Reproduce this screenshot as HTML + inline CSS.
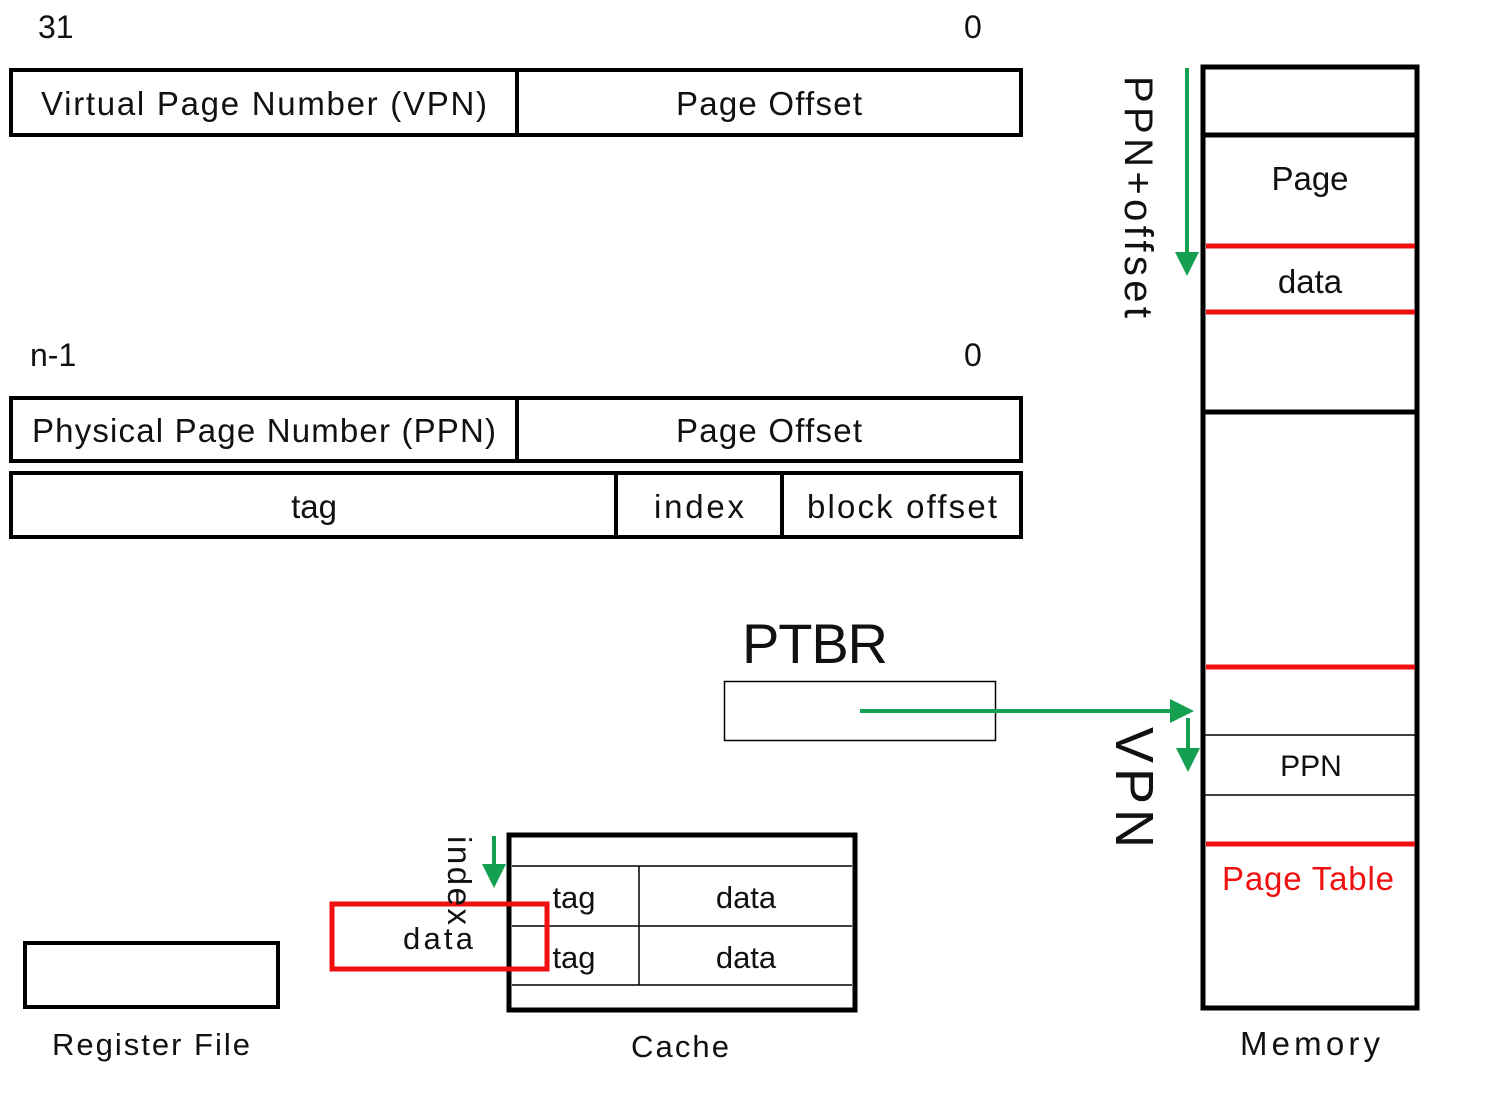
<!DOCTYPE html>
<html><head><meta charset="utf-8"><style>html,body{margin:0;padding:0;background:#fff}svg{display:block}text{font-family:"Liberation Sans",sans-serif;fill:#111}</style></head>
<body>
<svg width="1508" height="1117" viewBox="0 0 1508 1117" xmlns="http://www.w3.org/2000/svg">
<defs>
<marker id="ah" markerWidth="6" markerHeight="6" refX="5" refY="3" orient="auto" markerUnits="strokeWidth"><path d="M0,0 L6,3 L0,6 z" fill="#14a050"/></marker>
</defs>
<g font-size="32">
<text x="38" y="38">31</text>
<text x="964" y="38">0</text>
<text x="30" y="366">n-1</text>
<text x="964" y="366">0</text>
</g>
<g fill="none" stroke="#000" stroke-width="4">
<rect x="11" y="70" width="1010" height="65"/>
<line x1="517" y1="70" x2="517" y2="135"/>
<rect x="11" y="398" width="1010" height="63"/>
<line x1="517" y1="398" x2="517" y2="461"/>
<rect x="11" y="473" width="1010" height="64"/>
<line x1="616" y1="473" x2="616" y2="537"/>
<line x1="782" y1="473" x2="782" y2="537"/>
</g>
<g font-size="33" text-anchor="middle">
<text x="264" y="115" textLength="446">Virtual Page Number (VPN)</text>
<text x="769" y="115" textLength="186">Page Offset</text>
<text x="264" y="442" textLength="464">Physical Page Number (PPN)</text>
<text x="769" y="442" textLength="186">Page Offset</text>
<text x="314" y="518">tag</text>
<text x="699" y="518" textLength="90">index</text>
<text x="902" y="518" textLength="190">block offset</text>
</g>
<text x="742" y="663" font-size="56" textLength="146">PTBR</text>
<rect x="724.5" y="681.5" width="271" height="59" fill="none" stroke="#000" stroke-width="1.5"/>
<line x1="860" y1="711" x2="1190" y2="711" stroke="#14a050" stroke-width="4" marker-end="url(#ah)"/>
<g stroke="#000">
<rect x="1203" y="67" width="214" height="941" fill="none" stroke-width="5"/>
<line x1="1203" y1="135" x2="1417" y2="135" stroke-width="5"/>
<line x1="1203" y1="412" x2="1417" y2="412" stroke-width="5"/>
<line x1="1205" y1="735" x2="1415" y2="735" stroke-width="1.5"/>
<line x1="1205" y1="795" x2="1415" y2="795" stroke-width="1.5"/>
</g>
<g stroke="#f01010" stroke-width="5">
<line x1="1206" y1="246" x2="1415" y2="246"/>
<line x1="1206" y1="312" x2="1415" y2="312"/>
<line x1="1206" y1="667" x2="1415" y2="667"/>
<line x1="1206" y1="844" x2="1415" y2="844"/>
</g>
<g font-size="33" text-anchor="middle">
<text x="1310" y="190">Page</text>
<text x="1310" y="293">data</text>
<text x="1311" y="776" font-size="30">PPN</text>
<text x="1308" y="890" style="fill:#f01010" textLength="172">Page Table</text>
<text x="1310" y="1055" textLength="140">Memory</text>
</g>
<line x1="1187" y1="68" x2="1187" y2="272" stroke="#14a050" stroke-width="4" marker-end="url(#ah)"/>
<text transform="translate(1125,76) rotate(90)" font-size="40" textLength="242">PPN+offset</text>
<line x1="1188" y1="718" x2="1188" y2="768" stroke="#14a050" stroke-width="4" marker-end="url(#ah)"/>
<text transform="translate(1116,727) rotate(90)" font-size="54" textLength="121">VPN</text>
<g stroke="#000" fill="none">
<rect x="509" y="835" width="346" height="175" stroke-width="5"/>
<line x1="512" y1="866" x2="852" y2="866" stroke-width="1.5"/>
<line x1="512" y1="926" x2="852" y2="926" stroke-width="1.5"/>
<line x1="512" y1="985" x2="852" y2="985" stroke-width="1.5"/>
<line x1="639" y1="866" x2="639" y2="985" stroke-width="1.5"/>
</g>
<g font-size="31" text-anchor="middle">
<text x="574" y="908">tag</text>
<text x="746" y="908">data</text>
<text x="574" y="968">tag</text>
<text x="746" y="968">data</text>
<text x="438" y="949" textLength="70">data</text>
<text x="680" y="1057" textLength="98">Cache</text>
<text x="151" y="1055" textLength="198">Register File</text>
</g>
<rect x="332" y="904" width="215" height="65" fill="none" stroke="#f01010" stroke-width="5"/>
<text transform="translate(448,836) rotate(90)" font-size="33" textLength="89">index</text>
<line x1="494" y1="836" x2="494" y2="884" stroke="#14a050" stroke-width="4" marker-end="url(#ah)"/>
<rect x="25" y="943" width="253" height="64" fill="none" stroke="#000" stroke-width="4"/>
</svg>
</body></html>
